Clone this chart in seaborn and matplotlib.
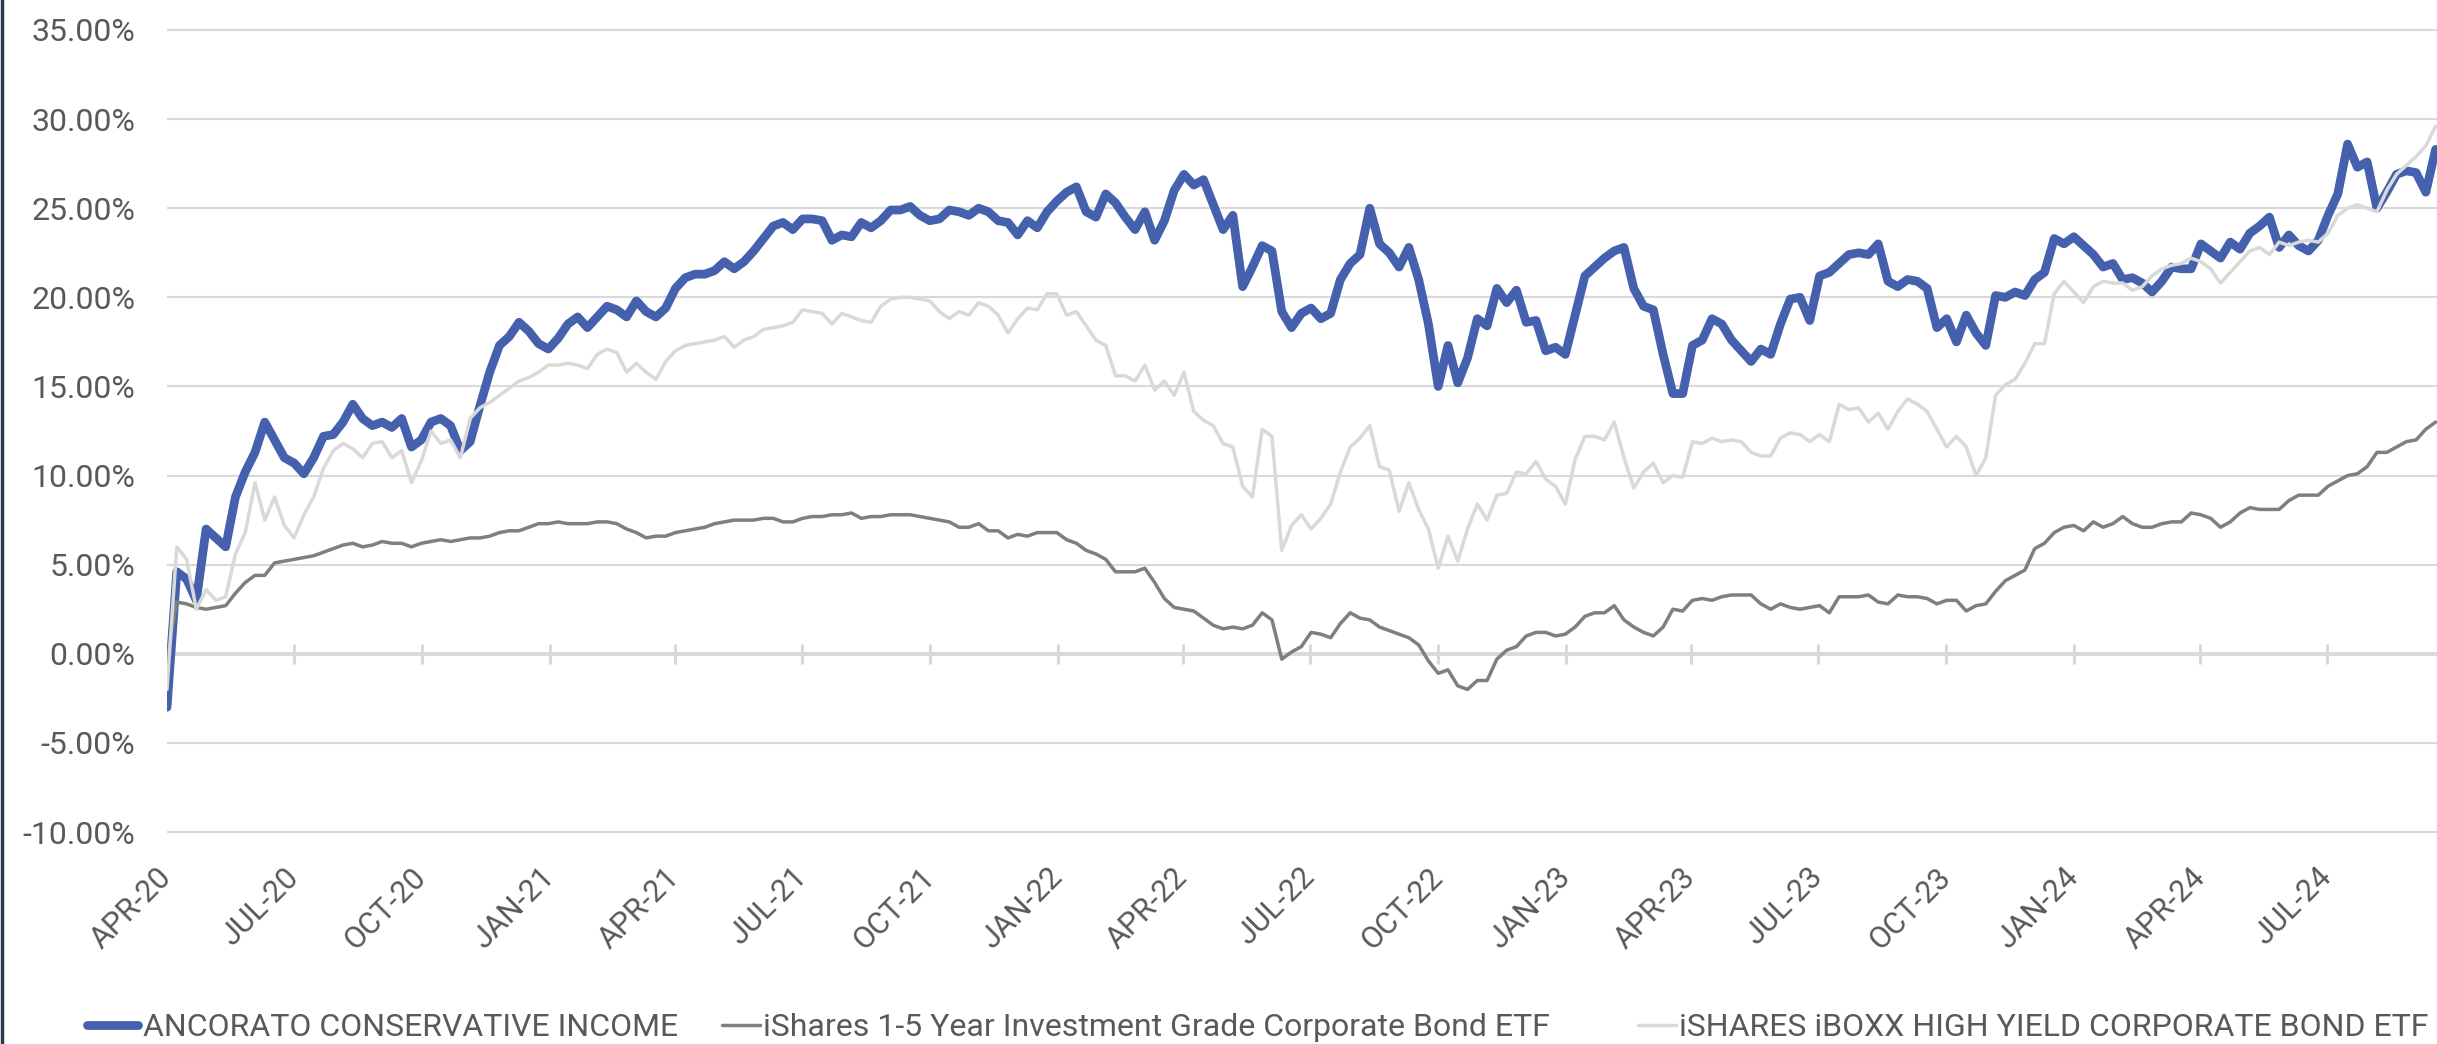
import numpy as np
import pandas as pd
import matplotlib
matplotlib.use("Agg")
import matplotlib.pyplot as plt
import seaborn as sns
from matplotlib.lines import Line2D
from matplotlib.ticker import FuncFormatter

# ---------------- data (cumulative return, %) ----------------
series_names = [
    "ANCORATO CONSERVATIVE INCOME",
    "iShares 1-5 Year Investment Grade Corporate Bond ETF",
    "iSHARES iBOXX HIGH YIELD CORPORATE BOND ETF",
]

ancorato = [
    -3.0, 4.6, 4.2, 3.0, 7.0, 6.5, 6.0, 8.8, 10.2, 11.3,
    13.0, 12.0, 11.0, 10.7, 10.1, 11.0, 12.2, 12.3, 13.0, 14.0,
    13.2, 12.8, 13.0, 12.7, 13.2, 11.6, 12.0, 13.0, 13.2, 12.8,
    11.4, 11.9, 13.9, 15.8, 17.3, 17.8, 18.6, 18.1, 17.4, 17.1,
    17.7, 18.5, 18.9, 18.3, 18.9, 19.5, 19.3, 18.9, 19.8, 19.2,
    18.9, 19.4, 20.5, 21.1, 21.3, 21.3, 21.5, 22.0, 21.6, 22.0,
    22.6, 23.3, 24.0, 24.2, 23.8, 24.4, 24.4, 24.3, 23.2, 23.5,
    23.4, 24.2, 23.9, 24.3, 24.9, 24.9, 25.1, 24.6, 24.3, 24.4,
    24.9, 24.8, 24.6, 25.0, 24.8, 24.3, 24.2, 23.5, 24.3, 23.9,
    24.8, 25.4, 25.9, 26.2, 24.8, 24.5, 25.8, 25.3, 24.5, 23.8,
    24.8, 23.2, 24.3, 26.0, 26.9, 26.3, 26.6, 25.2, 23.8, 24.6,
    20.6, 21.7, 22.9, 22.6, 19.2, 18.3, 19.1, 19.4, 18.8, 19.1,
    21.0, 21.9, 22.4, 25.0, 23.0, 22.5, 21.7, 22.8, 21.0, 18.5,
    15.0, 17.3, 15.2, 16.6, 18.8, 18.4, 20.5, 19.7, 20.4, 18.6,
    18.7, 17.0, 17.2, 16.8, 19.0, 21.2, 21.7, 22.2, 22.6, 22.8,
    20.5, 19.5, 19.3, 16.8, 14.6, 14.6, 17.3, 17.6, 18.8, 18.5,
    17.6, 17.0, 16.4, 17.1, 16.8, 18.5, 19.9, 20.0, 18.7, 21.2,
    21.4, 21.9, 22.4, 22.5, 22.4, 23.0, 20.9, 20.6, 21.0, 20.9,
    20.5, 18.3, 18.8, 17.5, 19.0, 18.0, 17.3, 20.1, 20.0, 20.3,
    20.1, 21.0, 21.4, 23.3, 23.0, 23.4, 22.9, 22.4, 21.7, 21.9,
    21.0, 21.1, 20.8, 20.3, 20.9, 21.7, 21.6, 21.6, 23.0, 22.6,
    22.2, 23.1, 22.7, 23.6, 24.0, 24.5, 22.8, 23.5, 22.9, 22.6,
    23.2, 24.6, 25.8, 28.6, 27.3, 27.6, 25.0, 25.9, 26.9, 27.1,
    27.0, 25.9, 28.3,
]

ishares_1_5 = [
    -0.3, 2.9, 2.8, 2.6, 2.5, 2.6, 2.7, 3.4, 4.0, 4.4,
    4.4, 5.1, 5.2, 5.3, 5.4, 5.5, 5.7, 5.9, 6.1, 6.2,
    6.0, 6.1, 6.3, 6.2, 6.2, 6.0, 6.2, 6.3, 6.4, 6.3,
    6.4, 6.5, 6.5, 6.6, 6.8, 6.9, 6.9, 7.1, 7.3, 7.3,
    7.4, 7.3, 7.3, 7.3, 7.4, 7.4, 7.3, 7.0, 6.8, 6.5,
    6.6, 6.6, 6.8, 6.9, 7.0, 7.1, 7.3, 7.4, 7.5, 7.5,
    7.5, 7.6, 7.6, 7.4, 7.4, 7.6, 7.7, 7.7, 7.8, 7.8,
    7.9, 7.6, 7.7, 7.7, 7.8, 7.8, 7.8, 7.7, 7.6, 7.5,
    7.4, 7.1, 7.1, 7.3, 6.9, 6.9, 6.5, 6.7, 6.6, 6.8,
    6.8, 6.8, 6.4, 6.2, 5.8, 5.6, 5.3, 4.6, 4.6, 4.6,
    4.8, 4.0, 3.1, 2.6, 2.5, 2.4, 2.0, 1.6, 1.4, 1.5,
    1.4, 1.6, 2.3, 1.9, -0.3, 0.1, 0.4, 1.2, 1.1, 0.9,
    1.7, 2.3, 2.0, 1.9, 1.5, 1.3, 1.1, 0.9, 0.5, -0.4,
    -1.1, -0.9, -1.8, -2.0, -1.5, -1.5, -0.3, 0.2, 0.4, 1.0,
    1.2, 1.2, 1.0, 1.1, 1.5, 2.1, 2.3, 2.3, 2.7, 1.9,
    1.5, 1.2, 1.0, 1.5, 2.5, 2.4, 3.0, 3.1, 3.0, 3.2,
    3.3, 3.3, 3.3, 2.8, 2.5, 2.8, 2.6, 2.5, 2.6, 2.7,
    2.3, 3.2, 3.2, 3.2, 3.3, 2.9, 2.8, 3.3, 3.2, 3.2,
    3.1, 2.8, 3.0, 3.0, 2.4, 2.7, 2.8, 3.5, 4.1, 4.4,
    4.7, 5.9, 6.2, 6.8, 7.1, 7.2, 6.9, 7.4, 7.1, 7.3,
    7.7, 7.3, 7.1, 7.1, 7.3, 7.4, 7.4, 7.9, 7.8, 7.6,
    7.1, 7.4, 7.9, 8.2, 8.1, 8.1, 8.1, 8.6, 8.9, 8.9,
    8.9, 9.4, 9.7, 10.0, 10.1, 10.5, 11.3, 11.3, 11.6, 11.9,
    12.0, 12.6, 13.0,
]

high_yield = [
    -2.0, 6.0, 5.3, 2.5, 3.6, 3.0, 3.2, 5.6, 6.8, 9.6,
    7.5, 8.8, 7.2, 6.5, 7.8, 8.8, 10.4, 11.4, 11.8, 11.5,
    11.0, 11.8, 11.9, 11.0, 11.4, 9.6, 10.8, 12.5, 11.8, 12.0,
    11.0, 13.2, 13.8, 14.1, 14.5, 14.9, 15.3, 15.5, 15.8, 16.2,
    16.2, 16.3, 16.2, 16.0, 16.8, 17.1, 16.9, 15.8, 16.3, 15.8,
    15.4, 16.4, 17.0, 17.3, 17.4, 17.5, 17.6, 17.8, 17.2, 17.6,
    17.8, 18.2, 18.3, 18.4, 18.6, 19.3, 19.2, 19.1, 18.5, 19.1,
    18.9, 18.7, 18.6, 19.5, 19.9, 20.0, 20.0, 19.9, 19.8, 19.2,
    18.8, 19.2, 19.0, 19.7, 19.5, 19.0, 18.0, 18.8, 19.4, 19.3,
    20.2, 20.2, 19.0, 19.2, 18.4, 17.6, 17.3, 15.6, 15.6, 15.3,
    16.2, 14.8, 15.3, 14.5, 15.8, 13.6, 13.1, 12.8, 11.8, 11.6,
    9.4, 8.8, 12.6, 12.2, 5.8, 7.2, 7.8, 7.0, 7.6, 8.4,
    10.2, 11.6, 12.1, 12.8, 10.5, 10.3, 8.0, 9.6, 8.1, 7.0,
    4.8, 6.6, 5.2, 7.0, 8.4, 7.5, 8.9, 9.0, 10.2, 10.1,
    10.8, 9.8, 9.4, 8.4, 10.9, 12.2, 12.2, 12.0, 13.0, 11.0,
    9.3, 10.2, 10.7, 9.6, 10.0, 9.9, 11.9, 11.8, 12.1, 11.9,
    12.0, 11.9, 11.3, 11.1, 11.1, 12.1, 12.4, 12.3, 11.9, 12.3,
    11.9, 14.0, 13.7, 13.8, 13.0, 13.5, 12.6, 13.6, 14.3, 14.0,
    13.6, 12.6, 11.6, 12.2, 11.6, 10.0, 11.0, 14.5, 15.1, 15.4,
    16.3, 17.4, 17.4, 20.2, 20.9, 20.3, 19.7, 20.6, 20.9, 20.8,
    20.8, 20.4, 20.6, 21.2, 21.6, 21.8, 21.9, 22.2, 22.0, 21.6,
    20.8, 21.4, 22.0, 22.6, 22.8, 22.4, 23.1, 22.9, 23.1, 23.2,
    23.1, 23.6, 24.6, 25.0, 25.2, 25.0, 24.8, 26.0, 26.9, 27.4,
    27.9, 28.5, 29.6,
]

first_date = "2020-04-01"
last_date = "2024-09-17"
axis_end = "2024-09-18"

tick_labels = ["APR-20", "JUL-20", "OCT-20", "JAN-21", "APR-21", "JUL-21",
               "OCT-21", "JAN-22", "APR-22", "JUL-22", "OCT-22", "JAN-23",
               "APR-23", "JUL-23", "OCT-23", "JAN-24", "APR-24", "JUL-24"]
y_ticks = [-10, -5, 0, 5, 10, 15, 20, 25, 30, 35]

# ---------------- build table ----------------
dates = pd.date_range(first_date, last_date, periods=len(ancorato))
wide = pd.DataFrame({"date": dates,
                     series_names[0]: ancorato,
                     series_names[1]: ishares_1_5,
                     series_names[2]: high_yield})
df = wide.melt(id_vars="date", var_name="series", value_name="value")
tick_dates = pd.date_range(first_date, periods=len(tick_labels), freq="QS")

# ---------------- style ----------------
sns.set_theme(style="white")
plt.rcParams["font.family"] = ["Roboto", "DejaVu Sans"]

colors = {series_names[0]: "#4560AD",
          series_names[1]: "#7F7F7F",
          series_names[2]: "#D9D9D9"}
widths = {series_names[0]: 6.3, series_names[1]: 2.5, series_names[2]: 2.5}

W, H = 2437, 1044
fig = plt.figure(figsize=(W / 100, H / 100), dpi=100)
ymin, ymax = -10.1, 35.1
px_per_unit = 89.2 / 5
top_px = 30 - (ymax - 35) * px_per_unit
bot_px = 832 + (-10 - ymin) * px_per_unit
left_px = 167
ax = fig.add_axes([left_px / W, 1 - bot_px / H, 1 - left_px / W, (bot_px - top_px) / H])

for name in series_names:
    sub = df[df["series"] == name]
    sns.lineplot(data=sub, x="date", y="value", ax=ax, color=colors[name],
                 linewidth=widths[name], label=name, zorder=3,
                 solid_joinstyle="round", solid_capstyle="round")

ax.set_ylim(ymin, ymax)
ax.set_xlim(pd.Timestamp(first_date), pd.Timestamp(axis_end))
ax.set_yticks(y_ticks)
ax.yaxis.set_major_formatter(FuncFormatter(lambda v, p: f"{v:.2f}%"))
ax.set_xticks(tick_dates)
ax.set_xticklabels(tick_labels, rotation=45, ha="right", va="center",
                   rotation_mode="anchor")
ax.tick_params(axis="x", length=0, pad=28, labelsize=22, labelcolor="#595959")
ax.tick_params(axis="y", length=0, pad=23, labelsize=23, labelcolor="#595959")
ax.set_xlabel("")
ax.set_ylabel("")

ax.set_axisbelow(True)
ax.grid(axis="y", color="#D9D9D9", linewidth=1.5)
ax.grid(axis="x", visible=False)
for s in ax.spines.values():
    s.set_visible(False)

# category axis crossing at 0% with tick marks
ax.axhline(0, color="#D9D9D9", linewidth=2.8, zorder=1)
ax.vlines(tick_dates, -0.56, 0.56, color="#D9D9D9", linewidth=2.2, zorder=1)

handles, labels = ax.get_legend_handles_labels()
if ax.get_legend() is not None:
    ax.get_legend().remove()

# one legend entry per slot, placed like the reference
legend_fs = 23
fs_px = legend_fs * 100 / 72
legend_slots = [  # (handle start px, handle length px, cap px)
    (83, 59, widths[series_names[0]] * 100 / 72 / 2),
    (720, 42, widths[series_names[1]] * 100 / 72 / 2),
    (1636, 42, widths[series_names[2]] * 100 / 72 / 2),
]
for h, lab, (x0, hl, cap) in zip(handles, labels, legend_slots):
    inner = hl - 2 * cap
    text_start = x0 + hl + 1
    pad = (text_start - (x0 + cap + inner)) / fs_px
    fig.legend([h], [lab], loc="center left",
               bbox_to_anchor=((x0 + cap) / W, 1 - 1028 / H),
               frameon=False, fontsize=legend_fs,
               handlelength=inner / fs_px, handletextpad=pad,
               borderpad=0, borderaxespad=0, labelcolor="#595959")

# left border strip
fig.add_artist(Line2D([1.5 / W, 1.5 / W], [0, 1], transform=fig.transFigure,
                      color="#2E3B4E", linewidth=2.5))

fig.savefig("out.png", dpi=100)
